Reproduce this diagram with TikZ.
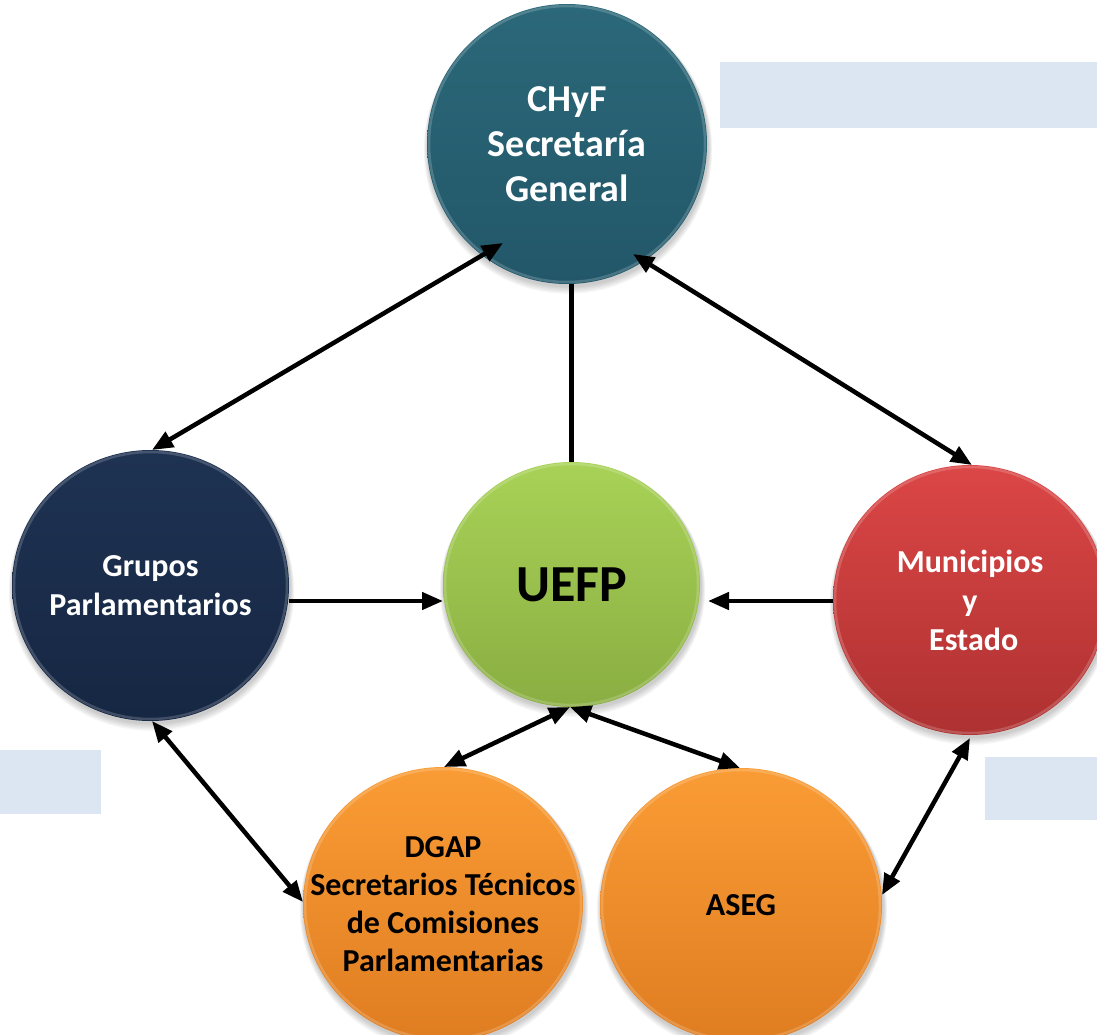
\documentclass[tikz,border=0pt]{standalone}
\usepackage{fontspec}
\setmainfont{Carlito}
\usetikzlibrary{arrows.meta,calc,shapes.geometric}
\definecolor{chyfT}{HTML}{2B6879}
\definecolor{chyfB}{HTML}{225769}
\definecolor{grupT}{HTML}{1E3252}
\definecolor{grupB}{HTML}{162743}
\definecolor{uefpT}{HTML}{A8D257}
\definecolor{uefpB}{HTML}{8AAE42}
\definecolor{muniT}{HTML}{DC4646}
\definecolor{muniB}{HTML}{AE3131}
\definecolor{oranT}{HTML}{FA9C35}
\definecolor{oranB}{HTML}{DF7D21}
\definecolor{paleblue}{HTML}{DCE6F2}
\newcommand\bubble[8]{%
  \foreach \k in {1,...,6}
    \fill[black,opacity=0.035] ($#2+(1,2+\k*0.6)$) ellipse ({#3+\k*0.7} and {#4+\k*0.7});
  \node[bub, minimum width=2*#3, minimum height=2*#4, top color=#5, bottom color=#6] (#1) at #2 {};
  \draw[white, opacity=0.18, line width=2.5pt] #2 ellipse ({#3-2} and {#4-2});
  \node[align=center, inner sep=0pt, #7] (#1txt) at (#1.center) {#8};
}
\begin{document}
\begin{tikzpicture}[x=1pt,y=-1pt,
  bub/.style={ellipse, inner sep=0pt, outer sep=0pt},
  wtxt/.style={text=white, font=\fontsize{32}{39}\selectfont\bfseries},
  btxt/.style={text=black, font=\fontsize{32}{38}\selectfont\bfseries},
  conn/.style={line width=4.5pt, black},
  >={Triangle[length=21pt,width=17pt]}]
\clip (0,0) rectangle (1097,1035);
\useasboundingbox (0,0) rectangle (1097,1035);
% pale boxes
\fill[paleblue] (720,62) rectangle (1097,128);
\fill[paleblue] (0,750) rectangle (101,814);
\fill[paleblue] (985,757) rectangle (1097,820);
% bubbles
\bubble{chyf}{(567,144)}{140}{140}{chyfT}{chyfB}{text=white, font=\fontsize{38}{45}\selectfont\bfseries}{CHyF\\Secretaría\\General}
\bubble{grupos}{(150.5,585.5)}{138.5}{135.5}{grupT}{grupB}{wtxt}{Grupos\\Parlamentarios}
\bubble{uefp}{(571.5,584.5)}{128.5}{122.5}{uefpT}{uefpB}{text=black, font=\fontsize{52}{60}\selectfont\bfseries}{UEFP}
\bubble{muni}{(970,600)}{137}{135}{muniT}{muniB}{wtxt}{Municipios\\y\\\hspace*{0.23em}Estado}
\bubble{dgap}{(443,904)}{140}{137}{oranT}{oranB}{btxt}{DGAP\\Secretarios Técnicos\\de Comisiones\\Parlamentarias}
\bubble{aseg}{(741,905)}{141}{137}{oranT}{oranB}{btxt}{ASEG}
% connectors
\draw[conn,<->] ($(chyf)+(-64,99)$) -- ($(grupos.north)+(1.5,0)$);
\draw[conn] (uefp.north) -- (uefp.north |- chyf.south);
\draw[conn,<->] ($(chyf)+(66,110)$) -- ($(muni.north)+(2,0)$);
\draw[conn,->] ($(grupos.east)+(0,15.5)$) -- ($(uefp.west)+(0,16.5)$);
\draw[conn,->] ($(muni.west)+(0,1)$) -- ($(uefp.east)+(8,16.5)$);
\draw[conn,<->] ($(uefp.south)+(-1.5,0)$) -- ($(dgap.north)+(1,0)$);
\draw[conn,<->] ($(uefp.south)+(-1.5,0)$) -- ($(aseg.north)+(-1,0)$);
\draw[conn,<->] ($(grupos.south)+(1.5,0)$) -- ($(dgap.west)+(0,-2)$);
\draw[conn,<->] ($(muni.south)+(0,3)$) -- ($(aseg.east)+(0,-10)$);
\end{tikzpicture}
\end{document}
